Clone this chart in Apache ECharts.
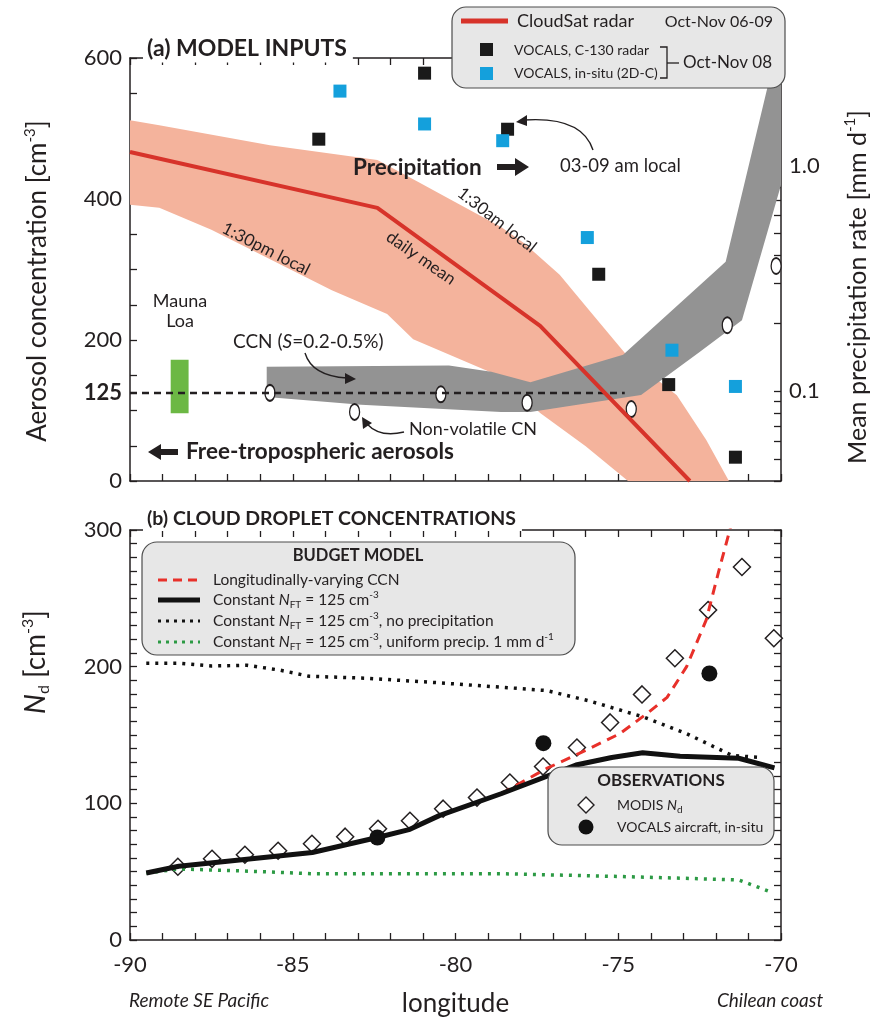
<!DOCTYPE html>
<html>
<head>
<meta charset="utf-8">
<script src="https://cdn.jsdelivr.net/npm/echarts@6/dist/echarts.min.js"></script>
<style>
  html, body { margin: 0; padding: 0; background: #fff; }
  #chart { width: 875px; height: 1023px; }
</style>
</head>
<body>
<div id="chart"></div>
<script>
// ---------- (a) model inputs ----------
// CloudSat daily mean precipitation [mm/d] (right, log axis)
const cloudsatLon = [-90, -82.4, -77.4, -72.8];
const cloudsatPrecip = [1.15, 0.65, 0.195, 0.04];
// 1:30am (upper) and 1:30pm (lower) edges of the CloudSat range
const amLon = [-90, -89.1, -85.7, -82.4, -81.1, -80.1, -78.6, -77.9, -76.8, -75.9, -74.7, -73.2, -72.3, -71.6];
const amPrecip = [1.59, 1.51, 1.23, 1.06, 0.84, 0.70, 0.535, 0.454, 0.328, 0.229, 0.142, 0.096, 0.061, 0.04];
const pmLon = [-90, -89.1, -87.5, -83.8, -82.1, -81.3, -78.6, -77.4, -76, -74.7];
const pmPrecip = [0.67, 0.65, 0.52, 0.28, 0.22, 0.17, 0.116, 0.08, 0.057, 0.04];
// VOCALS precipitation, Oct-Nov 08
const c130Lon = [-84.2, -80.95, -78.4, -75.6, -73.45, -71.4];
const c130Precip = [1.31, 2.57, 1.45, 0.33, 0.107, 0.051];
const insituLon = [-83.55, -80.95, -78.55, -75.95, -73.35, -71.4];
const insituPrecip = [2.14, 1.53, 1.29, 0.48, 0.152, 0.105];
// CCN (S=0.2-0.5%) range [cm-3]
const ccnUpLon = [-85.8, -80.2, -78.9, -77.7, -74.85, -71.7, -70.2, -70];
const ccnUp = [162, 164, 155, 140, 179, 311, 600, 630];
const ccnLoLon = [-85.8, -82.9, -78.6, -77.7, -74.3, -72.5, -71.2, -70];
const ccnLo = [119, 108, 98, 98, 122, 183, 228, 420];
// non-volatile CN
const cnLon = [-85.7, -83.1, -80.45, -77.8, -74.6, -71.65, -70.15];
const cnConc = [125, 98, 123, 111, 102, 221, 305];
// Mauna Loa range and free-tropospheric value
const maunaLoaLon = [-88.75, -88.2];
const maunaLoaConc = [96, 172];
const ftLon = [-90, -74.8];
const ftConc = [125, 125];

// ---------- (b) cloud droplet concentrations ----------
const nftLon = [-89.5, -88.5, -84.4, -82.4, -81.4, -80.5, -78.6, -76.3, -75.2, -74.25, -73.1, -71.3, -70.2];
const nftNd = [49, 54, 64, 75, 81, 91, 107, 128, 133.5, 137, 134.5, 133, 126];
const ccnVarLon = [-78.6, -77.2, -76.2, -74.95, -74.1, -73.5, -72.9, -72.3, -71.9, -71.55];
const ccnVarNd = [107, 125.5, 136.5, 151, 166, 177.5, 200, 234, 271, 302];
const noPrecipLon = [-89.5, -88.5, -87.5, -86.4, -85.4, -84.5, -82.7, -80.7, -78.6, -77.2, -75.9, -74.2, -72.9, -71.5, -70.6];
const noPrecipNd = [202.5, 202.5, 200.5, 201, 197.5, 193, 191.5, 188.5, 185, 182.5, 175, 163, 151, 135, 133.5];
const uniformLon = [-89.5, -88.5, -86.5, -84.4, -78.6, -75, -71.3, -70.3];
const uniformNd = [49, 52, 50.5, 48.5, 48.5, 46.5, 44, 35];
const modisLon = [-88.53, -87.48, -86.47, -85.45, -84.41, -83.39, -82.38, -81.4, -80.38, -79.34,
                  -78.33, -77.31, -76.27, -75.25, -74.27, -73.26, -72.24, -71.2, -70.22];
const modisNd = [53.6, 59.4, 62.4, 65.3, 70.4, 75.6, 81.4, 87.3, 96.1, 104.2,
                 115.2, 126.9, 140.9, 159.2, 179.7, 206.2, 241.4, 272.9, 220.8];
const vocalsLon = [-82.4, -77.3, -72.2];
const vocalsNd = [75, 144, 195];

// labelled positions
const ftLabel = [125];
const precipTicks = [0.04, 0.05, 0.06, 0.07, 0.08, 0.09, 0.1, 0.2, 0.3, 0.4, 0.5, 0.6, 0.7, 0.8, 0.9, 1, 2, 3];
const precipLabels = [0.1, 1];

const FONT = 'Lato, "Open Sans", sans-serif';
const INK = '#231f20';
const pairs = (xs, ys) => xs.map((x, i) => [x, ys[i]]);

const salmonPts = pairs(amLon, amPrecip).concat(pairs(pmLon, pmPrecip).reverse());
const ccnPts = pairs(ccnUpLon, ccnUp).concat(pairs(ccnLoLon, ccnLo).reverse());

function polygonSeries(pts, xi, yi, fill) {
    return {
        type: 'custom', xAxisIndex: xi, yAxisIndex: yi, clip: true, silent: true,
        data: pts, encode: { x: 0, y: 1 },
        renderItem: (params, api) => {
            if (params.dataIndex !== 0) return null;
            return {
                type: 'polygon',
                shape: { points: pts.map(p => api.coord(p)) },
                style: { fill: fill }
            };
        }
    };
}

// onZero off: every axis stays on its own edge of the grid
const axisLine = { show: true, onZero: false, lineStyle: { color: INK, width: 1.5 } };
const tickStyle = { color: INK, width: 1.3 };

function lonAxis(grid, pos, labels) {
    return {
        type: 'value', gridIndex: grid, position: pos, min: -90, max: -70, interval: 1,
        axisLine: axisLine,
        axisTick: { show: true, inside: true, length: 7, lineStyle: tickStyle },
        axisLabel: {
            show: labels, fontSize: 22, fontFamily: FONT, color: INK, margin: 14,
            formatter: v => (Math.round(v) % 5 === 0 ? String(Math.round(v)) : '')
        },
        splitLine: { show: false }
    };
}

const txt = (x, y, text, extra) => Object.assign({
    type: 'text', x: x, y: y, z: 100,
    style: Object.assign({ text: text, fontFamily: FONT, fontSize: 18, fill: INK, verticalAlign: 'middle' }, extra || {})
});
const rotTxt = (x, y, deg, text, size) => ({
    type: 'text', x: x, y: y, rotation: deg * Math.PI / 180, z: 100,
    style: { text: text, fontFamily: FONT, fontSize: size, fill: INK, align: 'center', verticalAlign: 'middle' }
});

const mkRich = size => ({
    i: { fontStyle: 'italic', fontSize: size, fontFamily: FONT, fill: INK, lineHeight: 20 },
    sub: { fontSize: 10, fontFamily: FONT, fill: INK, verticalAlign: 'bottom', lineHeight: 15 },
    sup: { fontSize: 10, fontFamily: FONT, fill: INK, verticalAlign: 'top', lineHeight: 15 }
});
const legTxt = (x, y, text, size) => ({
    type: 'text', x: x, y: y, z: 101,
    style: { text: text, fontFamily: FONT, fontSize: size || 15.5, fill: INK, verticalAlign: 'middle', lineHeight: 20,
             rich: mkRich(size || 15.5) }
});

const graphics = [
    // axis names
    { type: 'text', x: 38, y: 281, rotation: Math.PI / 2, z: 100,
      style: { text: 'Aerosol concentration [cm{s|-3}]', fontFamily: FONT, fontSize: 26, fill: INK,
               align: 'center', verticalAlign: 'middle', lineHeight: 30,
               rich: { s: { fontSize: 15, fontFamily: FONT, fill: INK, verticalAlign: 'top', lineHeight: 24 } } } },
    { type: 'text', x: 858, y: 287, rotation: Math.PI / 2, z: 100,
      style: { text: 'Mean precipitation rate [mm d{s|-1}]', fontFamily: FONT, fontSize: 25, fill: INK,
               align: 'center', verticalAlign: 'middle', lineHeight: 30,
               rich: { s: { fontSize: 15, fontFamily: FONT, fill: INK, verticalAlign: 'top', lineHeight: 24 } } } },
    { type: 'text', x: 36, y: 662, rotation: Math.PI / 2, z: 100,
      style: { text: '{i|N}{d|d} [cm{s|-3}]', fontFamily: FONT, fontSize: 28, fill: INK,
               align: 'center', verticalAlign: 'middle', lineHeight: 32,
               rich: {
                   i: { fontStyle: 'italic', fontSize: 28, fontFamily: FONT, fill: INK, lineHeight: 32 },
                   d: { fontSize: 16, fontFamily: FONT, fill: INK, verticalAlign: 'bottom', lineHeight: 26 },
                   s: { fontSize: 16, fontFamily: FONT, fill: INK, verticalAlign: 'top', lineHeight: 26 }
               } } },
    txt(199, 1001, 'Remote SE Pacific', { fontStyle: 'italic', align: 'center', fontSize: 19 }),
    txt(770, 1001, 'Chilean coast', { fontStyle: 'italic', align: 'center', fontSize: 19 }),

    // panel titles (white backing hides the frame line)
    txt(143, 49, '(a) MODEL INPUTS', { fontWeight: 'bold', fontSize: 23, backgroundColor: '#fff', padding: [2, 6, 2, 4] }),
    txt(143, 519, '(b) CLOUD DROPLET CONCENTRATIONS', { fontWeight: 'bold', fontSize: 19.5, backgroundColor: '#fff', padding: [2, 6, 2, 4] }),

    // top legend
    { type: 'rect', z: 100, shape: { x: 452, y: 7, width: 333, height: 81, r: 14 },
      style: { fill: '#e7e7e7', stroke: '#4d4d4d', lineWidth: 1.2 } },
    { type: 'line', z: 101, shape: { x1: 461, y1: 21, x2: 508, y2: 21 }, style: { stroke: '#d7332a', lineWidth: 5 } },
    txt(517, 21, 'CloudSat radar', { fontSize: 18, z: 101 }),
    txt(773, 22, 'Oct-Nov 06-09', { fontSize: 16, align: 'right' }),
    { type: 'rect', z: 101, shape: { x: 480, y: 43, width: 13, height: 13 }, style: { fill: '#1a1a1a' } },
    txt(514, 50, 'VOCALS, C-130 radar', { fontSize: 14 }),
    { type: 'rect', z: 101, shape: { x: 480, y: 67, width: 13, height: 13 }, style: { fill: '#14a0dc' } },
    txt(514, 73, 'VOCALS, in-situ (2D-C)', { fontSize: 14 }),
    { type: 'polyline', z: 101, shape: { points: [[660, 47], [667, 47], [667, 78], [660, 78]] },
      style: { stroke: INK, lineWidth: 1.3, fill: null } },
    { type: 'line', z: 101, shape: { x1: 667, y1: 63, x2: 679, y2: 63 }, style: { stroke: INK, lineWidth: 1.3 } },
    txt(683, 63, 'Oct-Nov 08', { fontSize: 17 }),

    // precipitation annotations
    txt(353, 168, 'Precipitation', { fontWeight: 'bold', fontSize: 22.5 }),
    { type: 'polygon', z: 100, shape: { points: [[497, 164], [515, 164], [515, 158], [529, 167], [515, 176], [515, 170], [497, 170]] },
      style: { fill: INK } },
    txt(560, 166, '03-09 am local', { fontSize: 18.5 }),
    { type: 'bezierCurve', z: 100, shape: { x1: 593, y1: 150, cpx1: 582, cpy1: 116, x2: 524, y2: 120 },
      style: { stroke: INK, lineWidth: 1.4, fill: null } },
    { type: 'polygon', z: 100, shape: { points: [[516, 122], [527, 115], [527, 126]] }, style: { fill: INK } },
    rotTxt(497, 220, -38, '1:30am local', 17),
    rotTxt(421, 258, -35, 'daily mean', 17),
    rotTxt(266, 249, -27, '1:30pm local', 17),

    // aerosol annotations
    txt(180, 301, 'Mauna', { align: 'center' }),
    txt(180, 321, 'Loa', { align: 'center' }),
    txt(233, 342, 'CCN ({i|S}=0.2-0.5%)', { fontSize: 19, rich: { i: { fontStyle: 'italic', fontSize: 19, fontFamily: FONT, fill: INK } } }),
    { type: 'bezierCurve', z: 100, shape: { x1: 305, y1: 353, cpx1: 312, cpy1: 376, x2: 347, y2: 378 },
      style: { stroke: INK, lineWidth: 1.4, fill: null } },
    { type: 'polygon', z: 100, shape: { points: [[356, 379], [345, 373], [345, 384]] }, style: { fill: INK } },
    txt(409, 429, 'Non-volatile CN'),
    { type: 'bezierCurve', z: 100, shape: { x1: 404, y1: 432, cpx1: 380, cpy1: 438, x2: 367, y2: 424 },
      style: { stroke: INK, lineWidth: 1.4, fill: null } },
    { type: 'polygon', z: 100, shape: { points: [[362, 417], [363, 429], [372, 423]] }, style: { fill: INK } },
    { type: 'polygon', z: 100, shape: { points: [[148, 452], [161, 444], [161, 449], [178, 449], [178, 455], [161, 455], [161, 460]] },
      style: { fill: INK } },
    txt(186, 452, 'Free-tropospheric aerosols', { fontWeight: 'bold', fontSize: 22.5 }),

    // budget model legend
    { type: 'rect', z: 100, shape: { x: 142, y: 542, width: 433, height: 113, r: 15 },
      style: { fill: '#e7e7e7', stroke: '#4d4d4d', lineWidth: 1.2 } },
    txt(358, 556, 'BUDGET MODEL', { fontWeight: 'bold', fontSize: 16.5, align: 'center', z: 101 }),
    { type: 'line', z: 101, shape: { x1: 158, y1: 580, x2: 200, y2: 580 }, style: { stroke: '#e8302a', lineWidth: 3, lineDash: [9, 6] } },
    legTxt(213, 580, 'Longitudinally-varying CCN'),
    { type: 'line', z: 101, shape: { x1: 158, y1: 600, x2: 200, y2: 600 }, style: { stroke: '#111', lineWidth: 5 } },
    legTxt(213, 600, 'Constant {i|N}{sub|FT} = 125 cm{sup|-3}'),
    { type: 'line', z: 101, shape: { x1: 158, y1: 621, x2: 200, y2: 621 }, style: { stroke: '#111', lineWidth: 3, lineDash: [3, 5] } },
    legTxt(213, 621, 'Constant {i|N}{sub|FT} = 125 cm{sup|-3}, no precipitation'),
    { type: 'line', z: 101, shape: { x1: 158, y1: 642, x2: 200, y2: 642 }, style: { stroke: '#2c9a44', lineWidth: 3, lineDash: [3, 5] } },
    legTxt(213, 642, 'Constant {i|N}{sub|FT} = 125 cm{sup|-3}, uniform precip. 1 mm d{sup|-1}'),

    // observations legend
    { type: 'rect', z: 100, shape: { x: 548, y: 767, width: 226, height: 78, r: 14 },
      style: { fill: '#e7e7e7', stroke: '#4d4d4d', lineWidth: 1.2 } },
    txt(661, 781, 'OBSERVATIONS', { fontWeight: 'bold', fontSize: 17, align: 'center', z: 101 }),
    { type: 'polygon', z: 101, shape: { points: [[586, 797], [594, 805], [586, 813], [578, 805]] },
      style: { fill: '#fff', stroke: INK, lineWidth: 1.4 } },
    legTxt(617, 805, 'MODIS {i|N}{sub|d}', 14),
    { type: 'circle', z: 101, shape: { cx: 586, cy: 827, r: 7.5 }, style: { fill: '#111' } },
    legTxt(617, 827, 'VOCALS aircraft, in-situ', 14)
];

const option = {
    animation: false,
    backgroundColor: '#fff',
    textStyle: { fontFamily: FONT },
    grid: [
        { left: 130, top: 58, width: 651, height: 423 },
        { left: 130, top: 530, width: 651, height: 410 }
    ],
    xAxis: [
        lonAxis(0, 'bottom', false),
        lonAxis(0, 'top', false),
        Object.assign(lonAxis(1, 'bottom', true), {
            name: 'longitude', nameLocation: 'middle', nameGap: 51,
            nameTextStyle: { fontSize: 26, fontFamily: FONT, color: INK }
        }),
        lonAxis(1, 'top', false)
    ],
    yAxis: [
        {
            type: 'value', gridIndex: 0, position: 'left', min: 0, max: 600, interval: 50,
            axisLine: axisLine,
            axisTick: { show: true, inside: true, length: 7, lineStyle: tickStyle },
            axisLabel: {
                show: true, fontSize: 22, fontFamily: FONT, color: INK, margin: 8,
                formatter: v => (v % 200 === 0 ? String(v) : '')
            },
            splitLine: { show: false }
        },
        {
            type: 'log', logBase: 10, gridIndex: 0, position: 'right', min: 0.04, max: 3,
            axisLine: axisLine,
            axisTick: { show: true, inside: true, length: 7, lineStyle: tickStyle, customValues: precipTicks },
            axisLabel: {
                show: true, customValues: precipLabels, fontSize: 22, fontFamily: FONT, color: INK, margin: 8,
                formatter: v => (Math.abs(v - 1) < 1e-6 ? '1.0' : '0.1')
            },
            splitLine: { show: false }
        },
        {
            type: 'value', gridIndex: 1, position: 'left', min: 0, max: 300, interval: 10,
            axisLine: axisLine,
            axisTick: { show: true, inside: true, length: 7, lineStyle: tickStyle },
            axisLabel: {
                show: true, fontSize: 22, fontFamily: FONT, color: INK, margin: 8,
                formatter: v => (v % 100 === 0 ? String(v) : '')
            },
            splitLine: { show: false }
        },
        {
            type: 'value', gridIndex: 1, position: 'right', min: 0, max: 300, interval: 10,
            axisLine: axisLine,
            axisTick: { show: true, inside: true, length: 7, lineStyle: tickStyle },
            axisLabel: { show: false },
            splitLine: { show: false }
        },
        {
            // bold 125 label for the free-tropospheric value
            type: 'value', gridIndex: 0, position: 'left', min: 0, max: 600,
            axisLine: { show: false, onZero: false }, axisTick: { show: false }, splitLine: { show: false },
            axisLabel: {
                show: true, customValues: ftLabel, fontSize: 22, fontWeight: 'bold', fontFamily: FONT, color: INK, margin: 8
            }
        }
    ],
    graphic: graphics,
    series: [
        polygonSeries(salmonPts, 0, 1, '#f4b39c'),
        polygonSeries(ccnPts, 0, 0, '#939393'),
        {
            type: 'custom', xAxisIndex: 0, yAxisIndex: 0, silent: true,
            data: [[maunaLoaLon[0], maunaLoaLon[1], maunaLoaConc[0], maunaLoaConc[1]]],
            encode: { x: [0, 1], y: [2, 3] },
            renderItem: (params, api) => {
                const a = api.coord([api.value(0), api.value(3)]);
                const b = api.coord([api.value(1), api.value(2)]);
                return { type: 'rect', shape: { x: a[0], y: a[1], width: b[0] - a[0], height: b[1] - a[1] },
                         style: { fill: '#6cb844' } };
            }
        },
        {
            type: 'line', xAxisIndex: 0, yAxisIndex: 0, data: pairs(ftLon, ftConc), showSymbol: false, silent: true,
            lineStyle: { color: INK, width: 2.5, type: [7, 5] }
        },
        {
            type: 'line', xAxisIndex: 0, yAxisIndex: 1, data: pairs(cloudsatLon, cloudsatPrecip), showSymbol: false,
            silent: true, clip: true, lineStyle: { color: '#d7332a', width: 4 }
        },
        {
            type: 'scatter', xAxisIndex: 0, yAxisIndex: 0, data: pairs(cnLon, cnConc), symbol: 'circle',
            symbolSize: [10, 16], itemStyle: { color: '#fff', borderColor: INK, borderWidth: 1.6, opacity: 1 }
        },
        {
            type: 'scatter', xAxisIndex: 0, yAxisIndex: 1, data: pairs(c130Lon, c130Precip), symbol: 'rect',
            symbolSize: 13, itemStyle: { color: '#1a1a1a', opacity: 1 }
        },
        {
            type: 'scatter', xAxisIndex: 0, yAxisIndex: 1, data: pairs(insituLon, insituPrecip), symbol: 'rect',
            symbolSize: 13, itemStyle: { color: '#14a0dc', opacity: 1 }
        },
        {
            type: 'line', xAxisIndex: 2, yAxisIndex: 2, data: pairs(noPrecipLon, noPrecipNd), showSymbol: false, silent: true,
            lineStyle: { color: '#111', width: 3.5, type: [3, 6] }
        },
        {
            type: 'line', xAxisIndex: 2, yAxisIndex: 2, data: pairs(uniformLon, uniformNd), showSymbol: false, silent: true,
            lineStyle: { color: '#2c9a44', width: 3.5, type: [3, 6] }
        },
        {
            type: 'line', xAxisIndex: 2, yAxisIndex: 2, data: pairs(ccnVarLon, ccnVarNd), showSymbol: false, silent: true,
            clip: true, lineStyle: { color: '#e8302a', width: 3, type: [10, 7] }
        },
        {
            type: 'line', xAxisIndex: 2, yAxisIndex: 2, data: pairs(nftLon, nftNd), showSymbol: false, silent: true,
            lineStyle: { color: '#111', width: 5 }
        },
        {
            type: 'scatter', xAxisIndex: 2, yAxisIndex: 2, data: pairs(modisLon, modisNd), symbol: 'diamond',
            symbolSize: 17, itemStyle: { color: '#fff', borderColor: INK, borderWidth: 1.5, opacity: 1 }
        },
        {
            type: 'scatter', xAxisIndex: 2, yAxisIndex: 2, data: pairs(vocalsLon, vocalsNd), symbol: 'circle',
            symbolSize: 16, itemStyle: { color: '#111', opacity: 1 }
        }
    ]
};

const chart = echarts.init(document.getElementById('chart'), null, { renderer: 'canvas' });
chart.setOption(option);
</script>
</body>
</html>
